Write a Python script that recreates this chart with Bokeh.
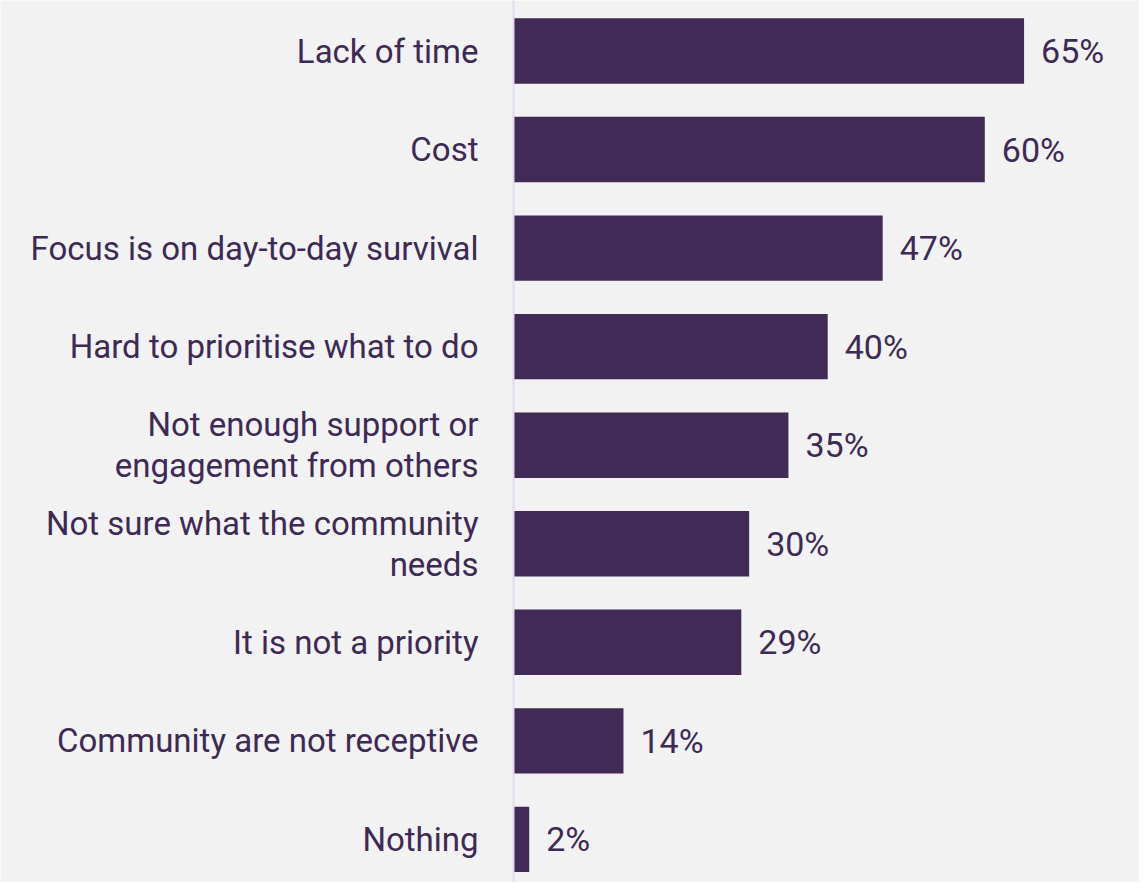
from bokeh.plotting import figure
from bokeh.models import Range1d, Span, ColumnDataSource
from bokeh.core.properties import value
from bokeh.embed import file_html
from bokeh.resources import INLINE

categories = [
    "Lack of time",
    "Cost",
    "Focus is on day-to-day survival",
    "Hard to prioritise what to do",
    "Not enough support or\nengagement from others",
    "Not sure what the community\nneeds",
    "It is not a priority",
    "Community are not receptive",
    "Nothing",
]
values = [65, 60, 47, 40, 35, 30, 29, 14, 2]
value_labels = [f"{v}%" for v in values]

BG = "#f2f2f2"
BAR = "#412a55"
TXT = "#3d2a54"
FONT = "Roboto"

W, H = 1139, 882
px_per_x = 7.855
axis_px = 513.0
pitch = 98.55
first_c = 50.5

idx = list(range(len(categories)))
src = ColumnDataSource(dict(y=idx, v=values, cat=categories, lab=value_labels,
                            zero=[0] * len(values)))

p = figure(width=W, height=H, output_backend="svg", toolbar_location=None,
           x_range=Range1d(-axis_px / px_per_x, (W - axis_px) / px_per_x),
           y_range=Range1d((H - first_c) / pitch, -first_c / pitch),
           min_border=0, background_fill_color=BG, border_fill_color=BG)
p.axis.visible = False
p.grid.visible = False
p.outline_line_color = None

p.add_layout(Span(location=0, dimension="height", line_color="#e2dbee", line_width=2))

p.hbar(y="y", left=0, right="v", height=65.4 / pitch, source=src,
       fill_color=BAR, line_color=None)

p.text(x="zero", y="y", text="cat", source=src, x_offset=-35,
       text_align="right", text_baseline="middle", text_color=TXT,
       text_font=value(FONT), text_font_size="33px", text_line_height=1.05)

p.text(x="v", y="y", text="lab", source=src, x_offset=17,
       text_align="left", text_baseline="middle", text_color=TXT,
       text_font=value(FONT), text_font_size="34px")

open("out.html", "w").write(file_html(p, INLINE))
